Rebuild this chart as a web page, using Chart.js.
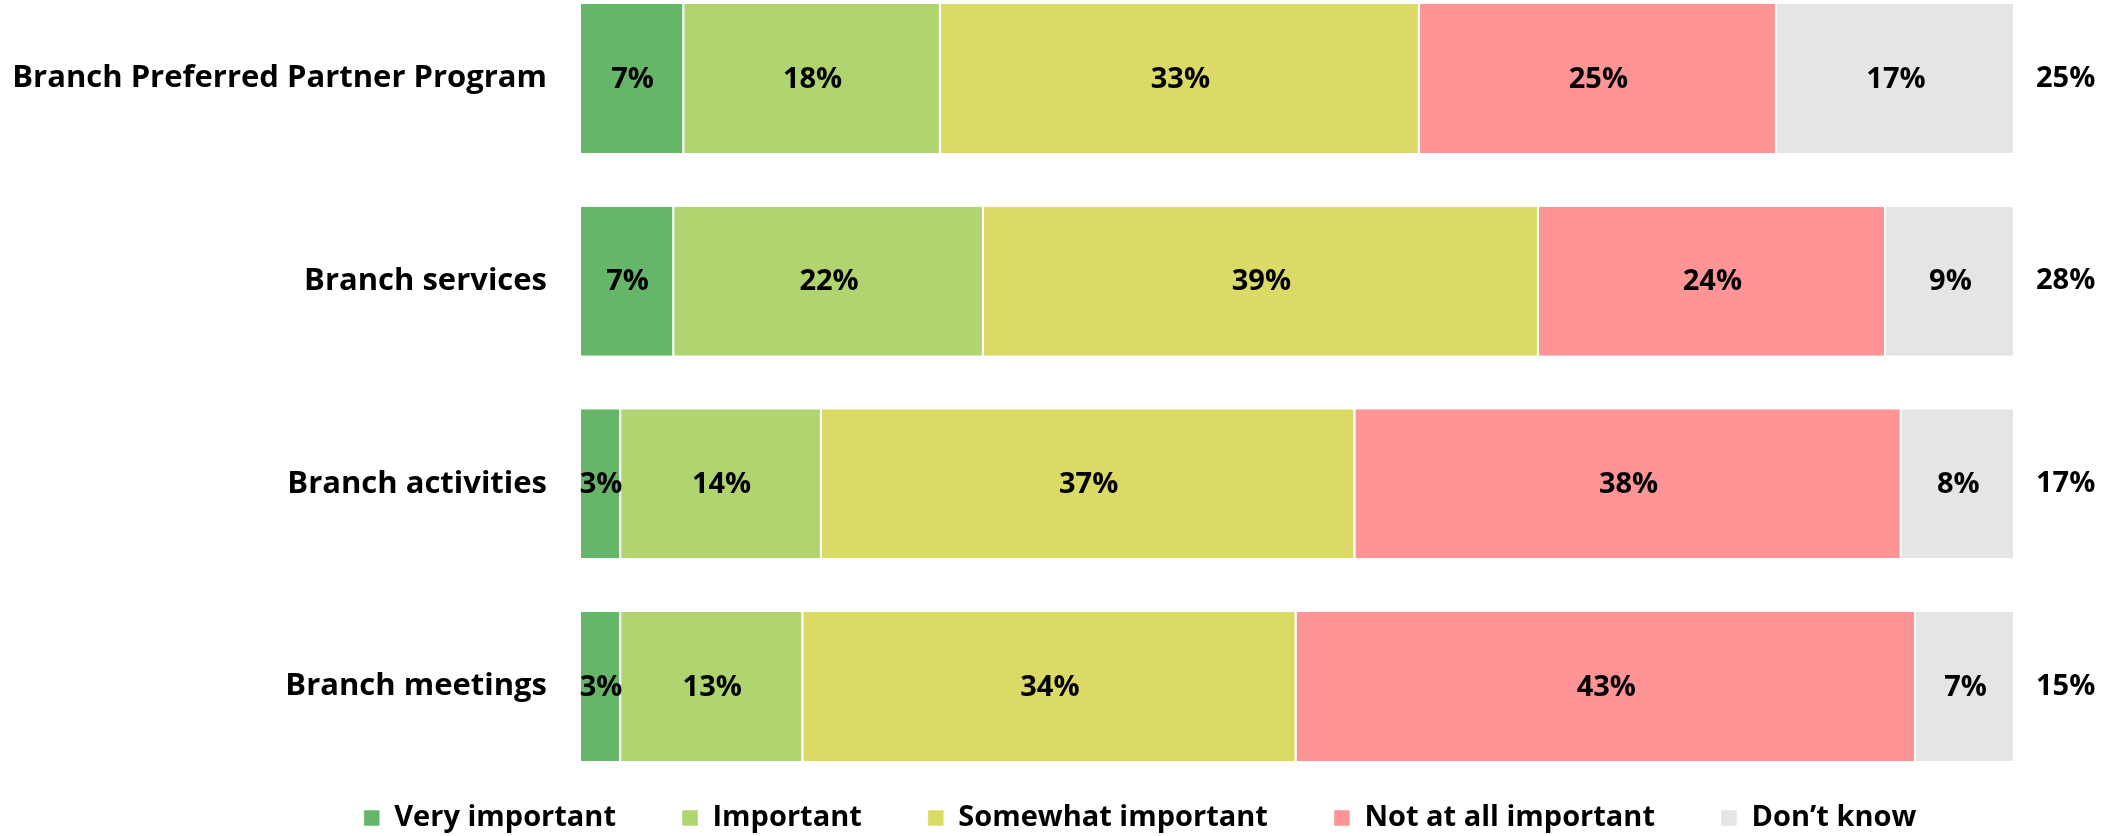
<!DOCTYPE html>
<html>
<head>
<meta charset="utf-8">
<script src="https://cdn.jsdelivr.net/npm/chart.js@4"></script>
<style>
  body { margin: 0; background: #fff; }
  #wrap { width: 2124px; height: 836px; }
</style>
</head>
<body>
<div id="wrap"><canvas id="myChart"></canvas></div>
<script>
var items = ["Branch Preferred Partner Program", "Branch services", "Branch activities", "Branch meetings"];
var series = ["Very important", "Important", "Somewhat important", "Not at all important", "Don\u2019t know"];
var veryImportant = [7.2, 6.5, 2.8, 2.8];
var important = [17.9, 21.6, 14.0, 12.7];
var somewhat = [33.4, 38.7, 37.2, 34.4];
var notAtAll = [24.9, 24.2, 38.1, 43.2];
var dontKnow = [16.6, 9.0, 7.9, 6.9];
var rightValues = [25, 28, 17, 15]; // Spalte rechts neben den Balken
var colors = ["#66b66a", "#b0d46f", "#dbda64", "#ff9497", "#e4e5e4"];

var fontFam = "'Open Sans', Lato, sans-serif";

// Prozentzahlen in die Balken schreiben
var labelPlugin = {
  id: "labels",
  afterDatasetsDraw: function (chart) {
    var ctx = chart.ctx;
    ctx.save();
    ctx.font = "bold 29px " + fontFam;
    ctx.fillStyle = "#000";
    ctx.textAlign = "center";
    ctx.textBaseline = "middle";
    chart.data.datasets.forEach(function (ds, i) {
      chart.getDatasetMeta(i).data.forEach(function (bar, j) {
        ctx.fillText(Math.round(ds.data[j]) + "%", (bar.x + bar.base) / 2, bar.y + 1);
      });
    });
    ctx.restore();
  },
};

var allSeries = [veryImportant, important, somewhat, notAtAll, dontKnow];

new Chart("myChart", {
  type: "bar",
  data: {
    labels: items,
    datasets: allSeries.map(function (d, i) {
      return {
        label: series[i],
        data: d,
        backgroundColor: colors[i],
        borderColor: "#ffffff",
        borderWidth: { left: 0, right: 2, top: 0, bottom: 0 },
        borderSkipped: false,
        categoryPercentage: 1,
        barPercentage: 0.735,
        clip: false,
      };
    }),
  },
  plugins: [labelPlugin],
  options: {
    indexAxis: "y",
    responsive: true,
    maintainAspectRatio: false,
    animation: false,
    layout: {
      // rechts negativ, damit die Legende wie im Original zentriert ist
      padding: { left: 0, right: -156, top: 78.5, bottom: 0 },
    },
    plugins: {
      tooltip: { enabled: false },
      legend: {
        position: "bottom",
        maxHeight: 98.5,
        labels: {
          boxWidth: 16,
          boxHeight: 16,
          padding: 66,
          color: "#000",
          font: { family: fontFam, size: 29, weight: "bold" },
        },
      },
    },
    scales: {
      x: {
        stacked: true,
        min: 0,
        max: 100,
        ticks: { display: false },
        grid: { display: false },
        border: { display: false },
        afterFit: function (s) { s.height = 51; },
      },
      y: {
        stacked: true,
        offset: false,
        grid: { display: false },
        border: { display: false },
        ticks: {
          padding: 26,
          color: "#000",
          font: { family: fontFam, size: 31, weight: "bold" },
        },
        afterFit: function (s) { s.width = 581; },
      },
      y2: {
        type: "category",
        position: "right",
        labels: rightValues.map(function (v) { return v + "%"; }),
        offset: false,
        grid: { display: false },
        border: { display: false },
        ticks: {
          padding: 13,
          color: "#000",
          font: { family: fontFam, size: 29, weight: "bold" },
        },
        afterFit: function (s) { s.width = 265; },
      },
    },
  },
});
</script>
</body>
</html>
